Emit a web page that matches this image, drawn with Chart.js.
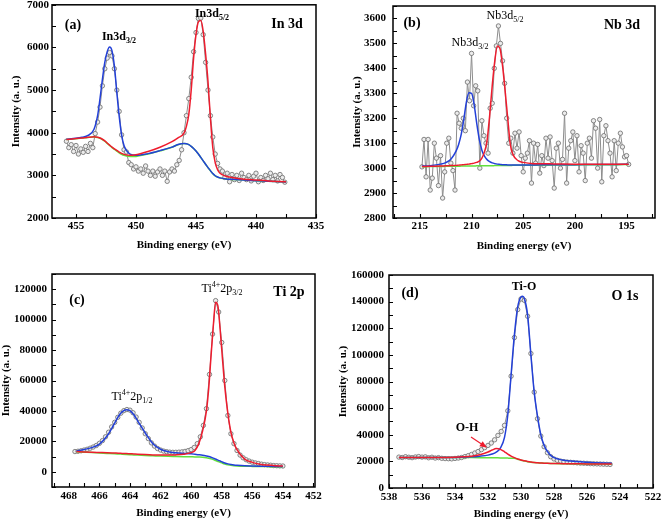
<!DOCTYPE html>
<html><head><meta charset="utf-8">
<script src="https://cdn.jsdelivr.net/npm/chart.js@4.4.0/dist/chart.umd.min.js"></script>
<style>
html,body{margin:0;padding:0;background:#fff;}
#wrap{position:relative;width:661px;height:522px;overflow:hidden;background:#fff}
canvas{position:absolute}
</style>
</head><body><div id="wrap">
<canvas id="ca" width="330" height="260" style="left:0;top:0"></canvas>
<canvas id="cb" width="331" height="260" style="left:330px;top:0"></canvas>
<canvas id="cc" width="330" height="262" style="left:0;top:260px"></canvas>
<canvas id="cd" width="331" height="262" style="left:330px;top:260px"></canvas>
</div>
<script>
// ---------- (a) In 3d ----------
const aX = [455.8,455.6,455.4,455.2,455.0,454.8,454.6,454.4,454.2,454.0,
453.8,453.6,453.4,453.2,453.0,452.8,452.6,452.4,452.2,452.0,
451.8,451.6,451.4,451.2,451.0,450.8,450.6,450.4,450.2,450.0,
449.8,449.6,449.4,449.2,449.0,448.8,448.6,448.4,448.2,448.0,
447.8,447.6,447.4,447.2,447.0,446.8,446.6,446.4,446.2,446.0,
445.8,445.6,445.4,445.2,445.0,444.8,444.6,444.4,444.2,444.0,
443.8,443.6,443.4,443.2,443.0,442.8,442.6,442.4,442.2,442.0,
441.8,441.6,441.4,441.2,441.0,440.8,440.6,440.4,440.2,440.0,
439.8,439.6,439.4,439.2,439.0,438.8,438.6,438.4,438.2,438.0,
437.8,437.6];
const aY = [3800,3650,3720,3560,3700,3500,3620,3540,3680,3560,
3750,3650,3980,4250,4600,5100,5500,5750,5880,5800,
5500,5000,4500,3950,3600,3550,3300,3250,3150,3200,
3100,3150,3050,3220,3100,3000,3100,2980,3080,3150,
3000,3100,2860,3080,3150,3100,3250,3350,3600,4000,
4400,4800,5300,5900,6350,6680,6690,6300,5650,5000,
4400,3900,3500,3280,3150,3100,2950,3050,2850,3020,
2900,3000,2880,3050,2950,2900,3000,2870,2980,3050,
2850,2950,2880,3000,2920,3050,2900,3000,2870,3020,
2950,2840];
const aFitX = [455.8,455,454.5,454,453.5,453.2,453,452.8,452.6,452.4,452.2,452,451.8,451.6,451.4,451.2,451,450.5,450,449,448,447,446.5,446,445.8,445.6,445.4,445.2,445,444.8,444.6,444.4,444.2,444,443.8,443.6,443.4,443.2,443,442.5,442,441,440,439,438,437.5];
const aBg = [3840,3860,3875,3890,3900,3890,3870,3840,3800,3750,3700,3650,3610,3570,3530,3495,3470,3440,3445,3500,3575,3660,3720,3745,3740,3720,3680,3630,3570,3500,3420,3340,3260,3180,3110,3040,2990,2960,2940,2915,2905,2890,2875,2860,2850,2845];
const aBlue = [3845,3870,3895,3935,4080,4400,4800,5250,5650,5900,6010,5920,5560,4950,4380,3950,3700,3500,3470,3510,3580,3662,3722,3746,3741,3721,3681,3631,3571,3501,3421,3341,3261,3181,3111,3041,2991,2961,2941,2916,2906,2891,2876,2861,2851,2846];
const aRed = [3842,3862,3877,3893,3904,3895,3876,3847,3808,3759,3710,3662,3623,3585,3547,3514,3492,3470,3485,3560,3660,3790,3880,3990,4150,4430,5000,5750,6300,6600,6630,6380,5850,5200,4350,3650,3300,3130,3050,2980,2950,2910,2890,2870,2856,2850];

// ---------- (b) Nb 3d ----------
const bX = [214.8,214.6,214.4,214.2,214.0,213.8,213.6,213.4,213.2,213.0,
212.8,212.6,212.4,212.2,212.0,211.8,211.6,211.4,211.2,211.0,
210.8,210.6,210.4,210.2,210.0,209.8,209.6,209.4,209.2,209.0,
208.8,208.6,208.4,208.2,208.0,207.8,207.6,207.4,207.2,207.0,
206.8,206.6,206.4,206.2,206.0,205.8,205.6,205.4,205.2,205.0,
204.8,204.6,204.4,204.2,204.0,203.8,203.6,203.4,203.2,203.0,
202.8,202.6,202.4,202.2,202.0,201.8,201.6,201.4,201.2,201.0,
200.8,200.6,200.4,200.2,200.0,199.8,199.6,199.4,199.2,199.0,
198.8,198.6,198.4,198.2,198.0,197.8,197.6,197.4,197.2,197.0,
196.8,196.6,196.4,196.2,196.0,195.8,195.6,195.4,195.2,195.0,
194.8];
const bY = [3005,3115,2965,3115,2912,2960,3100,3040,2930,3050,
2880,2985,3100,3120,3020,2990,2912,3220,3180,3160,
3200,3150,3345,3270,3460,3250,3330,3310,3000,3190,
3130,3100,3060,3240,3260,3400,3490,3570,3500,3430,
3340,3200,3100,3120,3060,3140,3080,3145,3050,2985,
3040,3060,3110,2940,3100,3020,3095,2980,3050,3010,
3120,3040,3125,3030,2920,3080,3100,3000,3035,3220,
2940,3080,3110,3145,3030,3130,2985,3090,3060,2950,
3100,3120,3040,3190,3160,3000,3195,2945,3130,3170,
3110,3060,2965,3110,2990,3100,3140,3085,3045,3050,
3015];
const bFitX = [214.8,214,213,212.5,212,211.5,211.25,211,210.75,210.5,210.25,210,209.75,209.5,209.25,209,208.75,208.5,208.25,208,207.75,207.5,207.25,207,206.75,206.5,206.25,206,205.5,205,204,202,200,198,196,194.8];
const bBg = [3005,3006,3006,3007,3007,3007,3007,3008,3008,3008,3008,3008,3008,3009,3009,3009,3009,3009,3009,3009,3010,3010,3010,3010,3010,3010,3010,3011,3011,3011,3011,3012,3013,3014,3014,3015];
const bBlue = [3008,3010,3016,3022,3036,3068,3095,3135,3195,3265,3302,3300,3255,3180,3115,3072,3048,3034,3026,3021,3018,3016,3015,3014,3014,3013,3013,3013,3013,3013,3013,3014,3014,3015,3015,3016];
const bRed = [3006,3007,3008,3009,3010,3011,3012,3013,3014,3015,3016,3018,3020,3023,3028,3040,3065,3110,3210,3330,3430,3490,3480,3410,3310,3200,3095,3055,3030,3023,3018,3017,3016,3016,3016,3016];

// ---------- (c) Ti 2p ----------
const cX = [467.6,467.4,467.2,467.0,466.8,466.6,466.4,466.2,466.0,465.8,
465.6,465.4,465.2,465.0,464.8,464.6,464.4,464.2,464.0,463.8,
463.6,463.4,463.2,463.0,462.8,462.6,462.4,462.2,462.0,461.8,
461.6,461.4,461.2,461.0,460.8,460.6,460.4,460.2,460.0,459.8,
459.6,459.4,459.2,459.0,458.8,458.6,458.4,458.2,458.0,457.8,
457.6,457.4,457.2,457.0,456.8,456.6,456.4,456.2,456.0,455.8,
455.6,455.4,455.2,455.0,454.8,454.6,454.4,454.2,454.0];
const cY = [13300,13500,13800,14300,14800,15500,16300,17300,18700,20500,
23000,26000,29500,32500,35800,38500,40200,40900,40500,38800,
36000,32500,28800,25000,21800,19000,16900,15300,14300,13600,
13200,12900,12800,12800,12900,13100,13400,13900,14600,16000,
18500,23000,30500,41500,64000,90500,112500,105000,85000,60000,
37000,25000,18500,14000,11000,9200,7900,7000,6300,5800,
5400,5000,4700,4500,4300,4100,4000,3900,3800];
const cFitX = [467.5,467,466.5,466,465.5,465,464.75,464.5,464.25,464,463.75,463.5,463,462.5,462,461.5,461,460.5,460,459.75,459.5,459.25,459,458.85,458.7,458.55,458.4,458.25,458.1,457.95,457.8,457.6,457.4,457.2,457,456.5,456,455.5,455,454.5,454];
const cBg = [13200,12900,12600,12350,12100,11850,11700,11550,11400,11250,11100,10950,10700,10500,10300,10150,10050,9950,9850,9800,9700,9550,9200,8900,8500,8000,7400,6800,6200,5600,5100,4600,4250,4000,3850,3650,3550,3480,3420,3360,3300];
const cBlue = [13700,14600,15900,18200,23500,32000,36500,39500,40800,40200,37500,33500,25500,18500,14800,13200,12500,12100,11800,11500,11200,10850,10350,10000,9550,9000,8350,7700,7050,6400,5800,5200,4800,4500,4300,3950,3800,3700,3620,3540,3470];
const cRed = [13300,13050,12850,12700,12550,12350,12250,12100,12000,11850,11700,11550,11300,11100,11000,11000,11100,11500,12600,14000,18500,27000,40000,55000,76000,96000,111500,109000,93000,74000,56000,38500,26000,19000,14500,8300,6200,5000,4400,4000,3750];

// ---------- (d) O 1s ----------
const dX = [537.4,537.2,537.0,536.8,536.6,536.4,536.2,536.0,535.8,535.6,
535.4,535.2,535.0,534.8,534.6,534.4,534.2,534.0,533.8,533.6,
533.4,533.2,533.0,532.8,532.6,532.4,532.2,532.0,531.8,531.6,
531.4,531.2,531.0,530.8,530.6,530.4,530.2,530.0,529.8,529.6,
529.4,529.2,529.0,528.8,528.6,528.4,528.2,528.0,527.8,527.6,
527.4,527.2,527.0,526.8,526.6,526.4,526.2,526.0,525.8,525.6,
525.4,525.2,525.0,524.8,524.6];
const dY = [23200,22900,23500,23100,22800,23300,23600,23200,23400,22700,
23100,22500,22800,22300,22100,22000,21900,22200,22500,22900,
23600,24300,25200,26300,27400,28800,30300,32000,33800,36200,
39500,42500,47000,58000,84000,113000,134000,142000,141000,129000,
101000,72000,52000,39000,31000,26500,23500,21800,20800,20200,
19800,19500,19300,19100,18900,18700,18600,18500,18300,18200,
18100,18000,17900,17800,17700];
const dFitX = [537.4,537,536,535,534,533.5,533,532.5,532,531.75,531.5,531.25,531,530.8,530.6,530.4,530.2,530,529.9,529.8,529.6,529.4,529.2,529,528.8,528.6,528.4,528.2,528,527.5,527,526,525,524.5];
const dBg = [23000,23000,22900,22900,22900,22900,22850,22800,22750,22700,22650,22600,22500,22450,22400,22300,21600,20900,20600,20300,19800,19400,19100,18900,18750,18600,18500,18400,18350,18250,18150,18050,17950,17900];
const dBlue = [23000,23000,22900,22900,23000,23200,23400,23900,24700,25500,27000,30000,38000,55000,85000,115000,136000,143500,144000,142500,130000,100000,72000,54000,40000,32000,27500,24500,22800,21000,20200,19300,18700,18500];
const dRed = [23000,23000,22900,22950,23100,23400,23900,25000,27000,28500,29600,29000,27200,25500,24000,22800,21800,21000,20700,20400,19900,19500,19200,18950,18800,18650,18550,18450,18400,18300,18200,18100,18000,17950];

// ---------- drawing ----------
const SERIF = '"Liberation Serif","Times New Roman",serif';
const BLUE = '#2340d8', RED = '#ee1c2e', GREEN = '#62e03c';
function zip(xs, ys){ return xs.map((x,i)=>({x:x, y:ys[i]})); }
function isMult(v, step){ const r = v/step; return Math.abs(r-Math.round(r)) < 1e-6; }
function f(w, s){ return w + ' ' + s + 'px ' + SERIF; }

function drawRich(ctx, t){
  let w = 0;
  t.parts.forEach(p=>{ ctx.font = p[1]; p.w = ctx.measureText(p[0]).width; w += p.w; });
  let x = t.x - w/2;
  t.parts.forEach(p=>{ ctx.font = p[1]; ctx.fillText(p[0], x, t.y + (p[2]||0)); x += p.w; });
}

function decoPlugin(p){
  return {
    id: 'deco_' + p.id,
    afterDatasetsDraw(chart){
      const ctx = chart.ctx, a = chart.chartArea, xs = chart.scales.x, ys = chart.scales.y;
      ctx.save();
      ctx.strokeStyle = '#000'; ctx.lineWidth = 1.1;
      ctx.beginPath();
      xs.ticks.forEach(t=>{
        if (t.value < xs.min-1e-9 || t.value > xs.max+1e-9) return;
        const px = Math.round(xs.getPixelForValue(t.value)) + 0.5;
        ctx.moveTo(px, a.bottom); ctx.lineTo(px, a.bottom-4);
      });
      ys.ticks.forEach(t=>{
        if (t.value < ys.min-1e-9 || t.value > ys.max+1e-9) return;
        const py = Math.round(ys.getPixelForValue(t.value)) + 0.5;
        ctx.moveTo(a.left, py); ctx.lineTo(a.left+4, py);
      });
      ctx.stroke();
      ctx.lineWidth = 1.5;
      ctx.strokeRect(a.left, a.top, a.right-a.left, a.bottom-a.top);
      ctx.fillStyle = '#000'; ctx.textBaseline = 'middle'; ctx.textAlign = 'left';
      p.texts.forEach(t=>drawRich(ctx, t));
      if (p.arrow){
        const [x1,y1,x2,y2] = p.arrow;
        ctx.strokeStyle = RED; ctx.fillStyle = RED; ctx.lineWidth = 1.2;
        ctx.beginPath(); ctx.moveTo(x1,y1); ctx.lineTo(x2,y2); ctx.stroke();
        const ang = Math.atan2(y2-y1, x2-x1), L = 6, W = 3;
        ctx.beginPath();
        ctx.moveTo(x2 + Math.cos(ang)*1, y2 + Math.sin(ang)*1);
        ctx.lineTo(x2 - L*Math.cos(ang) + W*Math.sin(ang), y2 - L*Math.sin(ang) - W*Math.cos(ang));
        ctx.lineTo(x2 - L*Math.cos(ang) - W*Math.sin(ang), y2 - L*Math.sin(ang) + W*Math.cos(ang));
        ctx.closePath(); ctx.fill();
      }
      ctx.restore();
    }
  };
}

function makeChart(p){
  const fitLine = (data, color, order) => ({data:data, borderColor:color, borderWidth:1.5, pointRadius:0, tension:0.4, cubicInterpolationMode:'monotone', order:order});
  const tickFont = {family:SERIF, weight:'bold', size:11};
  new Chart(document.getElementById(p.id), {
    type: 'line',
    data: { datasets: [
      fitLine(zip(p.fitX, p.red), RED, 1),
      fitLine(zip(p.fitX, p.blue), BLUE, 2),
      fitLine(zip(p.fitX, p.bg), GREEN, 3),
      {data: zip(p.rawX, p.rawY), borderColor:'#8d8d8d', borderWidth:1, pointRadius:2.2, pointBorderWidth:0.8,
       pointBorderColor:'#6a6a6a', pointBackgroundColor:'#ececec', tension:0, order:4}
    ]},
    options: {
      responsive:false, animation:false, events:[], devicePixelRatio:1,
      layout: {padding: {left:0, top:p.padTop, right:p.padRight, bottom:0}},
      plugins: {legend:{display:false}, tooltip:{enabled:false}},
      scales: {
        x: {
          type:'linear', reverse:true, min:p.xMin, max:p.xMax,
          grid:{display:false, drawTicks:false}, border:{display:false},
          ticks:{stepSize:p.xStep, autoSkip:false, maxRotation:0, minRotation:0, includeBounds:false, maxTicksLimit:1000,
            padding:p.xTickPad, color:'#000', font:tickFont,
            callback(v){ return (v >= this.min-1e-9 && v <= this.max+1e-9 && isMult(v, p.xMajor)) ? String(v) : ''; }},
          title:{display:true, text:'Binding energy (eV)', color:'#000', font:{family:SERIF, weight:'bold', size:11}, padding:{top:0, bottom:p.xTitlePad}},
          afterFit(s){ s.height = p.xH; s.paddingLeft = 0; s.paddingRight = 0; }
        },
        y: {
          type:'linear', min:p.yMin, max:p.yMax,
          grid:{display:false, drawTicks:false}, border:{display:false},
          ticks:{stepSize:p.yStep, autoSkip:false, includeBounds:false, maxTicksLimit:1000,
            padding:p.yTickPad, color:'#000', font:tickFont,
            callback(v){ return (v >= 0 && v >= this.min-1e-9 && v <= this.max+1e-9 && isMult(v, p.yMajor)) ? String(v) : ''; }},
          title:{display:true, text:'Intensity (a. u.)', color:'#000', font:{family:SERIF, weight:'bold', size:11}, padding:{top:p.yTitlePad, bottom:0}},
          afterFit(s){ s.width = p.yW; s.paddingTop = 0; s.paddingBottom = 0; }
        }
      }
    },
    plugins: [decoPlugin(p)]
  });
}

const B12 = f('bold',12), B8 = f('bold',8), B14 = f('bold',14), N12 = f('normal',12), N8 = f('normal',8);

makeChart({id:'ca', rawX:aX, rawY:aY, fitX:aFitX, bg:aBg, blue:aBlue, red:aRed,
  xMin:435, xMax:457, xStep:2.5, xMajor:5, yMin:2000, yMax:7000, yStep:500, yMajor:1000,
  padTop:4, padRight:14, yW:52, xH:42, yTickPad:3, xTickPad:2, yTitlePad:10, xTitlePad:8,
  texts:[
    {x:73, y:25, parts:[['(a)',B14]]},
    {x:287, y:24, parts:[['In 3d',B14]]},
    {x:119, y:37, parts:[['In3d',B12],['3/2',B8,4]]},
    {x:212, y:14, parts:[['In3d',B12],['5/2',B8,4]]}
  ]});

makeChart({id:'cb', rawX:bX, rawY:bY, fitX:bFitX, bg:bBg, blue:bBlue, red:bRed,
  xMin:192.25, xMax:217.6, xStep:2.5, xMajor:5, yMin:2800, yMax:3650, yStep:50, yMajor:100,
  padTop:6, padRight:6, yW:63, xH:42, yTickPad:7, xTickPad:2, yTitlePad:21, xTitlePad:7,
  texts:[
    {x:82, y:23, parts:[['(b)',B14]]},
    {x:292, y:25, parts:[['Nb 3d',B14]]},
    {x:140, y:43, parts:[['Nb3d',N12],['3/2',N8,4]]},
    {x:175, y:16, parts:[['Nb3d',N12],['5/2',N8,4]]}
  ]});

makeChart({id:'cc', rawX:cX, rawY:cY, fitX:cFitX, bg:cBg, blue:cBlue, red:cRed,
  xMin:451.9, xMax:469.1, xStep:1, xMajor:2, yMin:-10000, yMax:130000, yStep:10000, yMajor:20000,
  padTop:14, padRight:15, yW:52, xH:35, yTickPad:5, xTickPad:3, yTitlePad:0, xTitlePad:2,
  texts:[
    {x:77, y:40, parts:[['(c)',B14]]},
    {x:289, y:32, parts:[['Ti 2p',B14]]},
    {x:222, y:29, parts:[['Ti',N12],['4+',N8,-4],['2p',N12],['3/2',N8,4]]},
    {x:132, y:137, parts:[['Ti',N12],['4+',N8,-4],['2p',N12],['1/2',N8,4]]}
  ]});

makeChart({id:'cd', rawX:dX, rawY:dY, fitX:dFitX, bg:dBg, blue:dBlue, red:dRed,
  xMin:522, xMax:538, xStep:1, xMajor:2, yMin:0, yMax:160000, yStep:10000, yMajor:20000,
  padTop:15, padRight:8, yW:59, xH:34, yTickPad:5, xTickPad:3, yTitlePad:7, xTitlePad:1,
  texts:[
    {x:80, y:33, parts:[['(d)',B14]]},
    {x:295, y:36, parts:[['O 1s',B14]]},
    {x:194, y:27, parts:[['Ti-O',B12]]},
    {x:137, y:168, parts:[['O-H',B12]]}
  ],
  arrow:[141,177,156,187]});
</script>
</body></html>
